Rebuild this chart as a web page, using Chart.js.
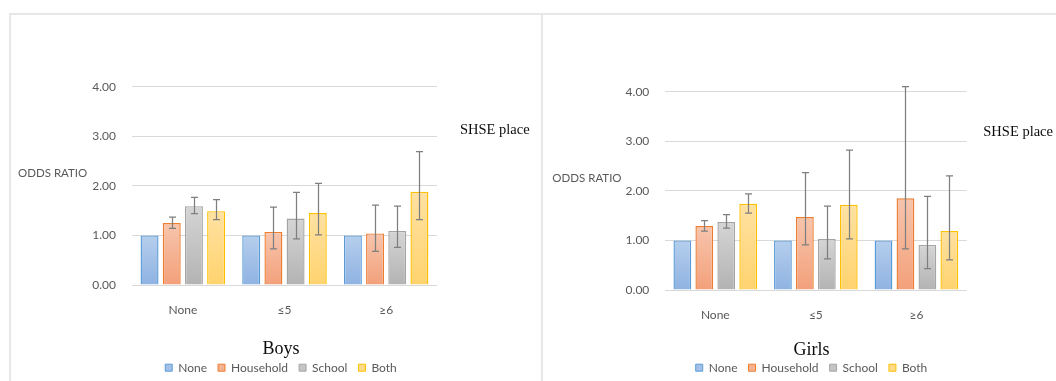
<!DOCTYPE html>
<html>
<head>
<meta charset="utf-8">
<script src="https://cdn.jsdelivr.net/npm/chart.js@4/dist/chart.umd.min.js"></script>
<style>
  html, body { margin: 0; padding: 0; background: #fff; overflow: hidden; }
  #stage { position: relative; width: 1056px; height: 381px; overflow: hidden; background: #fff; }
  .panel { position: absolute; top: 0; }
  canvas { display: block; }
  .rule { position: absolute; background: #e7e7e7; }
</style>
</head>
<body>
<div id="stage">
  <div class="panel" style="left:0;"><canvas id="boys" width="541" height="400"></canvas></div>
  <div class="panel" style="left:541px;"><canvas id="girls" width="542" height="400"></canvas></div>
  <div class="rule" style="left:9px;top:13px;width:1047px;height:2px;"></div>
  <div class="rule" style="left:9px;top:13px;width:2px;height:368px;"></div>
  <div class="rule" style="left:541px;top:13px;width:2px;height:368px;"></div>
</div>
<script>
// Exposure categories (SHSE place) and series
const categories = ['None', '≤5', '≥6'];
const seriesLabels = ['None', 'Household', 'School', 'Both'];
const yTicks = [0, 1, 2, 3, 4];

// Boys: odds ratios with 95% CI bounds
const boysNone = [1.00, 1.00, 1.00];
const boysHousehold = [1.25, 1.07, 1.04];
const boysHouseholdLow = [1.14, 0.73, 0.68];
const boysHouseholdHigh = [1.37, 1.57, 1.61];
const boysSchool = [1.59, 1.34, 1.09];
const boysSchoolLow = [1.44, 0.93, 0.76];
const boysSchoolHigh = [1.77, 1.87, 1.59];
const boysBoth = [1.49, 1.45, 1.88];
const boysBothLow = [1.32, 1.01, 1.32];
const boysBothHigh = [1.72, 2.05, 2.69];

// Girls: odds ratios with 95% CI bounds
const girlsNone = [1.00, 1.00, 1.00];
const girlsHousehold = [1.29, 1.47, 1.85];
const girlsHouseholdLow = [1.19, 0.91, 0.83];
const girlsHouseholdHigh = [1.40, 2.37, 4.10];
const girlsSchool = [1.37, 1.03, 0.91];
const girlsSchoolLow = [1.25, 0.63, 0.43];
const girlsSchoolHigh = [1.52, 1.69, 1.89];
const girlsBoth = [1.74, 1.72, 1.19];
const girlsBothLow = [1.55, 1.03, 0.61];
const girlsBothHigh = [1.94, 2.82, 2.30];

// Series styling: gradient top/bottom, border, legend swatch
const palette = [
  { top: '#b5ceed', bottom: '#8fb3e2', border: '#5b9bd5', swatch: '#a2c0e8' },
  { top: '#f7c5ad', bottom: '#f3a07a', border: '#ed7d31', swatch: '#f5b292' },
  { top: '#d5d5d5', bottom: '#b3b3b3', border: '#a5a5a5', swatch: '#c4c4c4' },
  { top: '#ffe1a2', bottom: '#ffd36e', border: '#ffc000', swatch: '#ffda88' }
];

const FONT = 'Lato, "Open Sans", sans-serif';
const SERIF = '"Liberation Serif", "DejaVu Serif", serif';
const GREY_TEXT = '#595959';
const TICK_FONT_SIZE = 12;

// Width of the widest value label, used to right-align mirrored tick labels
const tickLabelWidth = (() => {
  const c = document.createElement('canvas').getContext('2d');
  c.font = TICK_FONT_SIZE + 'px ' + FONT;
  return Math.max(...yTicks.map(v => c.measureText(v.toFixed(2)).width));
})();

function barGradient(style) {
  return (ctx) => {
    const chart = ctx.chart;
    if (ctx.type !== 'data' || !chart.chartArea) return style.swatch;
    const y = chart.scales.y;
    const top = y.getPixelForValue(ctx.parsed.y);
    const bottom = y.getPixelForValue(0);
    if (!isFinite(top) || !isFinite(bottom) || top === bottom) return style.swatch;
    const g = chart.ctx.createLinearGradient(0, top, 0, bottom);
    g.addColorStop(0, style.top);
    g.addColorStop(1, style.bottom);
    return g;
  };
}

// Draws CI whiskers with caps from each dataset's low/high arrays
const errorBars = {
  id: 'errorBars',
  afterDatasetsDraw(chart) {
    const ctx = chart.ctx;
    const y = chart.scales.y;
    ctx.save();
    ctx.strokeStyle = '#7f7f7f';
    ctx.lineWidth = 1.25;
    chart.data.datasets.forEach((ds, di) => {
      if (!ds.ciLow || !ds.ciHigh) return;
      const meta = chart.getDatasetMeta(di);
      meta.data.forEach((bar, i) => {
        const lo = ds.ciLow[i], hi = ds.ciHigh[i];
        if (lo == null || hi == null) return;
        const x = Math.round(bar.x) + 0.5;
        const yLo = y.getPixelForValue(lo);
        const yHi = y.getPixelForValue(hi);
        const cap = 3.5;
        ctx.beginPath();
        ctx.moveTo(x, yHi); ctx.lineTo(x, yLo);
        ctx.moveTo(x - cap, yHi); ctx.lineTo(x + cap, yHi);
        ctx.moveTo(x - cap, yLo); ctx.lineTo(x + cap, yLo);
        ctx.stroke();
      });
    });
    ctx.restore();
  }
};

// Free-standing labels: y-axis caption and the category-axis caption
const sideLabels = {
  id: 'sideLabels',
  afterDraw(chart, args, opts) {
    const ctx = chart.ctx;
    ctx.save();
    ctx.textBaseline = 'middle';
    ctx.textAlign = 'left';
    ctx.fillStyle = GREY_TEXT;
    ctx.font = '11.5px ' + FONT;
    ctx.fillText(opts.yCaption, opts.yCaptionX, opts.yCaptionY);
    ctx.fillStyle = '#0d0d0d';
    ctx.font = '14.5px ' + SERIF;
    ctx.fillText(opts.xCaption, opts.xCaptionX, opts.xCaptionY);
    ctx.restore();
  }
};

function makeChart(id, title, values, lows, highs, geo) {
  const datasets = seriesLabels.map((label, s) => ({
    label,
    data: values[s],
    ciLow: lows[s],
    ciHigh: highs[s],
    backgroundColor: barGradient(palette[s]),
    borderColor: palette[s].border,
    borderWidth: 1.4,
    categoryPercentage: 0.873,
    barPercentage: 0.81,
    clip: false
  }));

  return new Chart(document.getElementById(id), {
    type: 'bar',
    data: { labels: categories, datasets },
    plugins: [errorBars, sideLabels],
    options: {
      responsive: false,
      animation: false,
      events: [],
      layout: { padding: { left: geo.padLeft, right: geo.padRight, top: geo.padTop, bottom: geo.padBottom } },
      scales: {
        x: {
          grid: { display: false },
          border: { display: false },
          ticks: { color: GREY_TEXT, font: { family: FONT, size: 12 }, padding: 10 },
          afterFit(scale) { scale.height = geo.xAxisH; }
        },
        y: {
          min: yTicks[0],
          max: yTicks[yTicks.length - 1],
          afterBuildTicks(scale) { scale.ticks = yTicks.map(v => ({ value: v })); },
          ticks: {
            color: GREY_TEXT,
            font: { family: FONT, size: TICK_FONT_SIZE },
            mirror: true,
            crossAlign: 'far',
            padding: -(geo.tickGap + tickLabelWidth),
            callback: (v) => Number(v).toFixed(2)
          },
          grid: { color: '#d9d9d9', lineWidth: 1, drawTicks: false },
          border: { display: false },
          afterFit(scale) { scale.width = geo.yAxisW; }
        }
      },
      plugins: {
        title: {
          display: true,
          text: title,
          position: 'bottom',
          weight: 500,
          color: '#0d0d0d',
          font: { family: SERIF, size: 18, weight: 'normal', lineHeight: 1 },
          padding: { top: 0, bottom: geo.titlePadBottom }
        },
        legend: {
          position: 'bottom',
          weight: 1000,
          labels: {
            boxWidth: 7,
            boxHeight: 7,
            padding: 11,
            color: GREY_TEXT,
            font: { family: FONT, size: 12 },
            generateLabels(chart) {
              return chart.data.datasets.map((ds, i) => ({
                text: ds.label,
                fillStyle: palette[i].swatch,
                strokeStyle: palette[i].border,
                lineWidth: 1,
                fontColor: GREY_TEXT,
                hidden: false,
                datasetIndex: i
              }));
            }
          }
        },
        tooltip: { enabled: false },
        sideLabels: geo.labels
      }
    }
  });
}

makeChart('boys', 'Boys',
  [boysNone, boysHousehold, boysSchool, boysBoth],
  [null, boysHouseholdLow, boysSchoolLow, boysBothLow],
  [null, boysHouseholdHigh, boysSchoolHigh, boysBothHigh],
  {
    padLeft: 125, padRight: 104, padTop: 86.7, padBottom: 16.3,
    yAxisW: 7, tickGap: 16, xAxisH: 55.3, titlePadBottom: -7.6,
    labels: { yCaption: 'ODDS RATIO', yCaptionX: 18, yCaptionY: 173,
              xCaption: 'SHSE place', xCaptionX: 460, xCaptionY: 130 }
  });

makeChart('girls', 'Girls',
  [girlsNone, girlsHousehold, girlsSchool, girlsBoth],
  [null, girlsHouseholdLow, girlsSchoolLow, girlsBothLow],
  [null, girlsHouseholdHigh, girlsSchoolHigh, girlsBothHigh],
  {
    padLeft: 115.3, padRight: 116.3, padTop: 91.7, padBottom: 16.3,
    yAxisW: 8.7, tickGap: 15.7, xAxisH: 51.3, titlePadBottom: -8.6,
    labels: { yCaption: 'ODDS RATIO', yCaptionX: 11.3, yCaptionY: 178.3,
              xCaption: 'SHSE place', xCaptionX: 442.3, xCaptionY: 131.7 }
  });
</script>
</body>
</html>
